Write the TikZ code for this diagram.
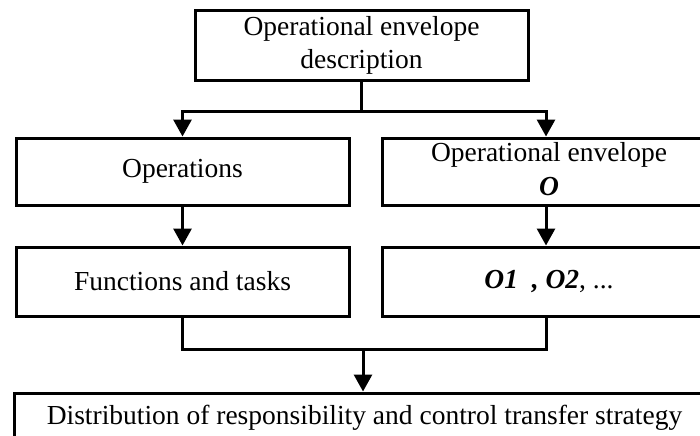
\documentclass[tikz,border=0pt]{standalone}
\usepackage{fontspec}
\setmainfont{Liberation Serif}
\usetikzlibrary{arrows.meta}

% box text centred in the visible part of a box that runs off the page
\newcommand{\cutpart}[2]{\makebox[#1]{\begin{tabular}{@{}c@{}}#2\end{tabular}}\hspace*{40pt}}

\tikzset{
  stage/.style={draw, line width=1.5pt, minimum width=166.5pt, minimum height=34pt,
    inner sep=2pt, align=center, font=\fontsize{13.75}{16.5}\selectfont},
  cutstage/.style={stage, anchor=west, minimum width=200pt, inner ysep=0pt},
  flow/.style={line width=1.5pt},
  flowarrow/.style={flow, -{Triangle[width=9pt,length=8.5pt]}}
}

\begin{document}
\begin{tikzpicture}[x=0.5pt, y=-0.5pt]
  \useasboundingbox (0,0) rectangle (700,435);
  \clip (0,0) rectangle (700,435);

  % boxes
  \node[stage, minimum height=35pt] (desc) at (361.5,45) {Operational envelope\\description};
  \node[stage, minimum height=33.5pt] (ops) at (182.5,171.5) {Operations};
  \node[cutstage, minimum height=33.5pt] (env) at (381,171.5) {\cutpart{162.5pt}{Operational envelope\\[0.5pt]\textbf{\textit{O}}}};
  \node[stage, minimum height=34.5pt] (func) at (182.5,281.5) {Functions and tasks};
  \node[cutstage, minimum height=34.5pt] (subs) at (381,281.5) {\cutpart{162.5pt}{\textbf{\textit{O1\ \ , O2}}, ...}};
  \node[cutstage, minimum width=380pt, minimum height=25pt] (dist) at (13,418) {\cutpart{346pt}{Distribution of responsibility and control transfer strategy}};

  % branch points
  \coordinate (split) at (361.5,111);
  \coordinate (merge) at (363,349);

  % connectors
  \draw[flow] (desc) -- (split);
  \draw[flowarrow] (split) -| (ops);
  \draw[flowarrow] (split) -| ([xshift=82.5pt]env.north west);
  \draw[flowarrow] (ops) -- (func);
  \draw[flowarrow] ([xshift=82.5pt]env.south west) -- ([xshift=82.5pt]subs.north west);
  \draw[flow] (func) |- (merge);
  \draw[flow] ([xshift=82.5pt]subs.south west) |- (merge);
  \draw[flowarrow] (merge) -- (merge |- dist.north);
\end{tikzpicture}
\end{document}
